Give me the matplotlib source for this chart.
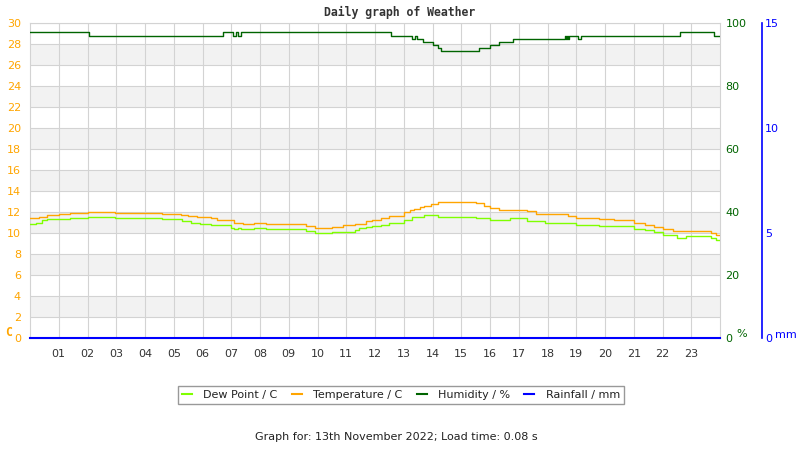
import matplotlib
matplotlib.use("Agg")
import matplotlib.pyplot as plt
from matplotlib.lines import Line2D

# ---------------- data ----------------
temp_hours = [0.0, 0.3, 0.6, 1.0, 1.4, 2.0, 2.95, 4.6, 5.25, 5.5, 5.8, 6.3, 6.5, 6.7,
              7.1, 7.4, 7.8, 8.2, 9.6, 9.9, 10.5, 10.9, 11.3, 11.7, 11.9, 12.2, 12.5,
              13.0, 13.2, 13.35, 13.55, 13.7, 13.95, 14.2, 15.5, 15.8, 16.0, 16.3,
              17.3, 17.6, 18.7, 19.0, 19.8, 20.3, 21.0, 21.4, 21.7, 22.0, 22.35,
              23.7, 23.85, 24.0]
temp_values = [11.4, 11.5, 11.7, 11.8, 11.9, 12.0, 11.9, 11.8, 11.7, 11.6, 11.5, 11.4,
               11.25, 11.2, 11.0, 10.9, 11.0, 10.9, 10.7, 10.5, 10.6, 10.8, 10.9, 11.1,
               11.2, 11.4, 11.6, 12.0, 12.2, 12.3, 12.5, 12.6, 12.8, 13.0, 12.9, 12.6,
               12.4, 12.2, 12.1, 11.8, 11.6, 11.4, 11.3, 11.2, 11.0, 10.8, 10.6, 10.4,
               10.2, 10.0, 9.8, 9.8]

dew_hours = [0.0, 0.2, 0.4, 0.6, 1.4, 2.0, 2.95, 4.6, 5.3, 5.6, 5.9, 6.3, 7.0, 7.1,
             7.25, 7.35, 7.8, 8.2, 9.6, 9.9, 10.5, 11.3, 11.45, 11.7, 11.9, 12.2, 12.5,
             13.0, 13.3, 13.7, 14.0, 14.2, 15.5, 16.0, 16.7, 17.3, 17.9, 18.6, 19.0,
             19.8, 21.0, 21.4, 21.7, 22.0, 22.5, 22.8, 23.7, 23.85, 24.0]
dew_values = [10.9, 11.0, 11.2, 11.3, 11.4, 11.5, 11.4, 11.3, 11.1, 11.0, 10.9, 10.75,
              10.5, 10.35, 10.5, 10.35, 10.5, 10.35, 10.2, 10.0, 10.1, 10.3, 10.45,
              10.6, 10.7, 10.8, 11.0, 11.25, 11.5, 11.7, 11.75, 11.5, 11.4, 11.25,
              11.4, 11.1, 11.0, 10.95, 10.8, 10.7, 10.4, 10.25, 10.1, 9.8, 9.55, 9.7,
              9.5, 9.3, 9.3]

hum_hours = [0.0, 2.05, 6.7, 7.05, 7.15, 7.25, 7.35, 12.56, 13.3, 13.38, 13.45, 13.68,
             14.0, 14.2, 14.3, 15.6, 16.0, 16.3, 16.8, 18.6, 18.63, 18.67, 18.7, 18.75,
             19.05, 19.15, 22.6, 23.8, 24.0]
hum_values = [97, 96, 97, 96, 97, 96, 97, 96, 95, 96, 95, 94, 93, 92, 91, 92, 93, 94,
              95, 96, 95, 96, 95, 96, 95, 96, 97, 96, 96]

rain_hours = [0.0, 24.0]
rain_values = [0.0, 0.0]

hour_ticks = list(range(1, 24))
hour_labels = ["%02d" % h for h in hour_ticks]
temp_ticks = list(range(0, 31, 2))
hum_ticks = [0, 20, 40, 60, 80, 100]
rain_ticks = [0, 5, 10, 15]

# ---------------- style ----------------
C_DEW = "#7fff00"
C_TEMP = "#ffa500"
C_HUM = "#006400"
C_RAIN = "#0000ff"
GRID = "#d3d3d3"
BAND = "#f2f2f2"
FS = 8.0

plt.rcParams["font.family"] = ["DejaVu Sans"]

fig = plt.figure(figsize=(8, 4.5), dpi=100)
ax = fig.add_axes([30 / 800, 1 - 338 / 450, 690 / 800, 315 / 450])
ax.set_xlim(0, 24)
ax.set_ylim(0, 30)

# bands and grid
for lo in range(2, 30, 4):
    ax.axhspan(lo, lo + 2, color=BAND, lw=0, zorder=0)
for t in temp_ticks:
    ax.axhline(t, color=GRID, lw=0.8, zorder=0.5)
for h in hour_ticks:
    ax.axvline(h, color=GRID, lw=0.8, zorder=0.5)
for s in ax.spines.values():
    s.set_color(GRID)
    s.set_linewidth(0.8)

ax.set_xticks(hour_ticks)
ax.set_xticklabels(hour_labels)
ax.tick_params(axis="x", length=0, pad=8, labelsize=FS, labelcolor="#333333")
ax.set_yticks(temp_ticks)
ax.tick_params(axis="y", length=0, pad=6.5, labelsize=FS, labelcolor=C_TEMP)

ax.step(dew_hours, dew_values, where="post", color=C_DEW, lw=1.0, zorder=3)
ax.step(temp_hours, temp_values, where="post", color=C_TEMP, lw=1.0, zorder=3)

# humidity axis
ax2 = ax.twinx()
ax2.set_ylim(0, 100)
ax2.set_yticks(hum_ticks)
ax2.tick_params(axis="y", length=0, pad=4, labelsize=FS, labelcolor=C_HUM)
for s in ax2.spines.values():
    s.set_visible(False)
ax2.step(hum_hours, hum_values, where="post", color=C_HUM, lw=1.0, zorder=3)

# rainfall axis
ax3 = ax.twinx()
ax3.set_ylim(0, 15)
ax3.set_yticks(rain_ticks)
for k, s in ax3.spines.items():
    s.set_visible(k == "right")
ax3.spines["right"].set_position(("axes", (762 - 30) / 690))
ax3.spines["right"].set_color(C_RAIN)
ax3.spines["right"].set_linewidth(1.2)
ax3.tick_params(axis="y", length=0, pad=2, labelsize=FS, labelcolor=C_RAIN)
ax3.step(rain_hours, rain_values, where="post", color=C_RAIN, lw=1.5, zorder=4,
         clip_on=False)

# unit labels
fig.text(5 / 800, 1 - 333 / 450, "C", color=C_TEMP, fontsize=8.3,
         family="DejaVu Sans Mono", weight="bold", va="center", ha="left")
fig.text(736 / 800, 1 - 334 / 450, "%", color=C_HUM, fontsize=FS,
         va="center", ha="left")
fig.text(775 / 800, 1 - 335 / 450, "mm", color=C_RAIN, fontsize=FS,
         va="center", ha="left")

# title
fig.text(400 / 800, 1 - 12 / 450, "Daily graph of Weather", fontsize=8.3,
         family="DejaVu Sans Mono", weight="bold", color="#333333",
         ha="center", va="center")

# legend
handles = [Line2D([], [], color=C_DEW, lw=1.5),
           Line2D([], [], color=C_TEMP, lw=1.5),
           Line2D([], [], color=C_HUM, lw=1.5),
           Line2D([], [], color=C_RAIN, lw=1.5)]
labels = ["Dew Point / C", "Temperature / C", "Humidity / %", "Rainfall / mm"]
leg = fig.legend(handles, labels, loc="center", bbox_to_anchor=(401 / 800, 1 - 395 / 450),
                 ncol=4, fontsize=FS, frameon=True, fancybox=False,
                 handlelength=0.9, handletextpad=1.0, columnspacing=1.3,
                 borderpad=0.4, borderaxespad=0)
leg.get_frame().set_edgecolor("#808080")
leg.get_frame().set_linewidth(1.0)
for t in leg.get_texts():
    t.set_color("#222222")

fig.text(396 / 800, 1 - 437 / 450,
         "Graph for: 13th November 2022; Load time: 0.08 s",
         fontsize=FS, color="#222222", ha="center", va="center")

fig.savefig("out.png", dpi=100)
